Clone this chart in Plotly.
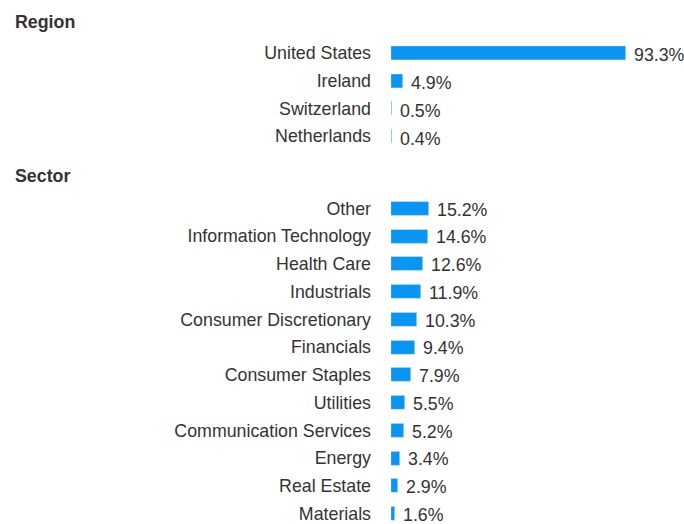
import plotly.graph_objects as go

W, H = 684, 524

region_labels = ["United States", "Ireland", "Switzerland", "Netherlands"]
region_values = [93.3, 4.9, 0.5, 0.4]

sector_labels = ["Other", "Information Technology", "Health Care", "Industrials",
                 "Consumer Discretionary", "Financials", "Consumer Staples", "Utilities",
                 "Communication Services", "Energy", "Real Estate", "Materials"]
sector_values = [15.2, 14.6, 12.6, 11.9, 10.3, 9.4, 7.9, 5.5, 5.2, 3.4, 2.9, 1.6]

BAR = "#0B95F2"
TXT = "#333333"
FONT = "Liberation Sans, Arial, sans-serif"
FS = 17.8

def py(px):  # pixel from top -> paper
    return (H - px) / H

row = 27.75
x0 = 391
xscale = 2.515  # px per percent
xmax = (W - x0) / xscale

fig = go.Figure()
fig.add_trace(go.Bar(x=region_values, y=region_labels, orientation="h",
                     marker_color=BAR, width=0.5, xaxis="x", yaxis="y",
                     hoverinfo="skip"))
fig.add_trace(go.Bar(x=sector_values, y=sector_labels, orientation="h",
                     marker_color=BAR, width=0.5, xaxis="x2", yaxis="y2",
                     hoverinfo="skip"))

annotations = []
for lab, v in zip(region_labels, region_values):
    annotations.append(dict(x=v, y=lab, xref="x", yref="y", text=f"{v:.1f}%",
                            showarrow=False, xanchor="left", xshift=7, yshift=-2.5,
                            borderpad=0, font=dict(size=FS, color=TXT, family=FONT)))
for lab, v in zip(sector_labels, sector_values):
    annotations.append(dict(x=v, y=lab, xref="x2", yref="y2", text=f"{v:.1f}%",
                            showarrow=False, xanchor="left", xshift=7, yshift=-1,
                            borderpad=0, font=dict(size=FS, color=TXT, family=FONT)))
annotations.append(dict(x=13 / W, y=py(22), xref="paper", yref="paper", text="<b>Region</b>",
                        showarrow=False, xanchor="left", yanchor="middle",
                        font=dict(size=FS, color=TXT, family=FONT)))
annotations.append(dict(x=13 / W, y=py(176), xref="paper", yref="paper", text="<b>Sector</b>",
                        showarrow=False, xanchor="left", yanchor="middle",
                        font=dict(size=FS, color=TXT, family=FONT)))

r_top = 53 - row / 2
r_bot = 53 + 3 * row + row / 2
s_first = 208.5
s_top = s_first - row / 2
s_bot_full = s_first + 11 * row + row / 2
s_bot = H
s_range_bottom = 11.5 - (s_bot_full - s_bot) / row

axis_common = dict(showgrid=False, zeroline=False, showline=False, ticks="")
fig.update_layout(
    width=W, height=H,
    margin=dict(l=0, r=0, t=0, b=0),
    paper_bgcolor="white", plot_bgcolor="white",
    showlegend=False, bargap=0,
    font=dict(family=FONT, size=FS, color=TXT),
    xaxis=dict(domain=[x0 / W, 1], range=[0, xmax], visible=False, anchor="y", **axis_common),
    xaxis2=dict(domain=[x0 / W, 1], range=[0, xmax], visible=False, anchor="y2", **axis_common),
    yaxis=dict(domain=[py(r_bot), py(r_top)], range=[3.5, -0.5], type="category",
               anchor="x", ticklabelstandoff=19, tickfont=dict(size=FS, color=TXT, family=FONT),
               **axis_common),
    yaxis2=dict(domain=[0, py(s_top)], range=[s_range_bottom, -0.5], type="category",
                anchor="x2", ticklabelstandoff=19, tickfont=dict(size=FS, color=TXT, family=FONT),
                **axis_common),
    annotations=annotations,
)
fig.update_traces(cliponaxis=False)

fig.write_html("out.html", config={"displayModeBar": False},
               post_script="document.body.style.margin='0';document.body.style.overflow='hidden';")
